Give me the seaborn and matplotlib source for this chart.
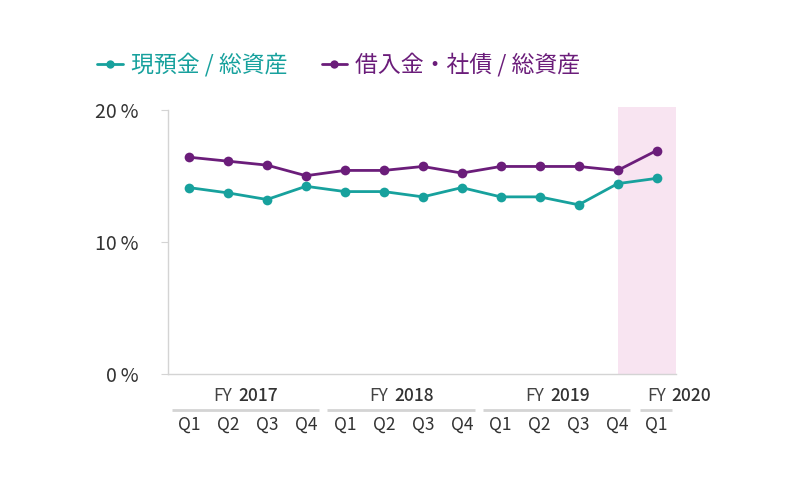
import matplotlib
matplotlib.use('Agg')
import matplotlib.pyplot as plt
import matplotlib.transforms as mtransforms
import pandas as pd
import seaborn as sns

# データ
quarters = ['Q1', 'Q2', 'Q3', 'Q4', 'Q1', 'Q2', 'Q3', 'Q4', 'Q1', 'Q2', 'Q3', 'Q4', 'Q1']
fiscal_years = ['2017', '2017', '2017', '2017', '2018', '2018', '2018', '2018',
                '2019', '2019', '2019', '2019', '2020']
cash_ratio = [14.1, 13.7, 13.2, 14.2, 13.8, 13.8, 13.4, 14.1, 13.4, 13.4, 12.8, 14.4, 14.8]
debt_ratio = [16.4, 16.1, 15.8, 15.0, 15.4, 15.4, 15.7, 15.2, 15.7, 15.7, 15.7, 15.4, 16.9]
series_names = ['現預金 / 総資産', '借入金・社債 / 総資産']
y_ticks = [0, 10, 20]

teal = '#17a19d'
purple = '#6b1d7a'
grey = '#d4d4d4'
text_col = '#333333'
fonts = ['Noto Sans CJK JP', 'DejaVu Sans']

df = pd.DataFrame({'idx': range(len(quarters)),
                   series_names[0]: cash_ratio,
                   series_names[1]: debt_ratio})
long_df = df.melt(id_vars='idx', var_name='系列', value_name='比率')

sns.set_style('white')
plt.rcParams['font.family'] = fonts

fig = plt.figure(figsize=(7.87, 4.83), dpi=100)
ax = fig.add_axes([0.2135, 0.2257, 0.6455, 0.5528])

# 直近四半期のハイライト
ax.axvspan(len(quarters) - 1.98, len(quarters) - 0.5, color='#f8e4f1', lw=0, zorder=0)

sns.lineplot(data=long_df, x='idx', y='比率', hue='系列',
             palette=[teal, purple], marker='o', markersize=7,
             markeredgewidth=0, linewidth=2, ax=ax, zorder=3)

ax.set_xlim(-0.54, len(quarters) - 0.5)
ax.set_ylim(0, 20.2)
ax.set_xlabel('')
ax.set_ylabel('')

# 軸
for s in ['top', 'right']:
    ax.spines[s].set_visible(False)
ax.spines['left'].set_color(grey)
ax.spines['left'].set_bounds(0, 20)
ax.spines['bottom'].set_color(grey)
ax.spines['bottom'].set_linewidth(1)
ax.spines['left'].set_linewidth(1)

ax.set_yticks(y_ticks)
ax.set_yticklabels([f'{v}\u2009%' for v in y_ticks], fontsize=14, color=text_col)
ax.tick_params(axis='y', length=5, color=grey, pad=16, left=True)

ax.set_xticks(range(len(quarters)))
ax.set_xticklabels(quarters, fontsize=12.5, color=text_col)
ax.tick_params(axis='x', length=0, pad=30)

# 年度ラベルと区切り線
trans = mtransforms.blended_transform_factory(ax.transData, ax.transAxes)
years = list(dict.fromkeys(fiscal_years))
for y in years:
    idxs = [i for i, fy in enumerate(fiscal_years) if fy == y]
    first, last = idxs[0], idxs[-1]
    if len(idxs) > 1:
        x0, x1 = first - 0.45, last + 0.33
        cx = (first + last) / 2
        dx = -4
    else:
        x0, x1 = first - 0.42, first + 0.4
        cx = first
        dx = 20
    ax.plot([x0, x1], [-0.135, -0.135], transform=trans, color=grey,
            lw=2, clip_on=False, solid_capstyle='butt')
    ax.annotate('FY', xy=(cx, -0.084), xycoords=trans, xytext=(dx - 11, 0),
                textcoords='offset pixels', ha='right', va='center',
                fontsize=12.5, color='#444444')
    ax.annotate(y, xy=(cx, -0.084), xycoords=trans, xytext=(dx - 5, 0),
                textcoords='offset pixels', ha='left', va='center',
                fontsize=12.5, color=text_col, fontweight='medium')

# 凡例
leg = ax.legend(loc='lower left', bbox_to_anchor=(-0.157, 1.078), ncol=2, frameon=False,
                fontsize=16.5, handlelength=1.1, handletextpad=0.35, columnspacing=1.5,
                borderaxespad=0, labelcolor='linecolor')
for h in leg.legend_handles:
    h.set_markersize(6)

fig.savefig('out.png', dpi=100, facecolor='white')
